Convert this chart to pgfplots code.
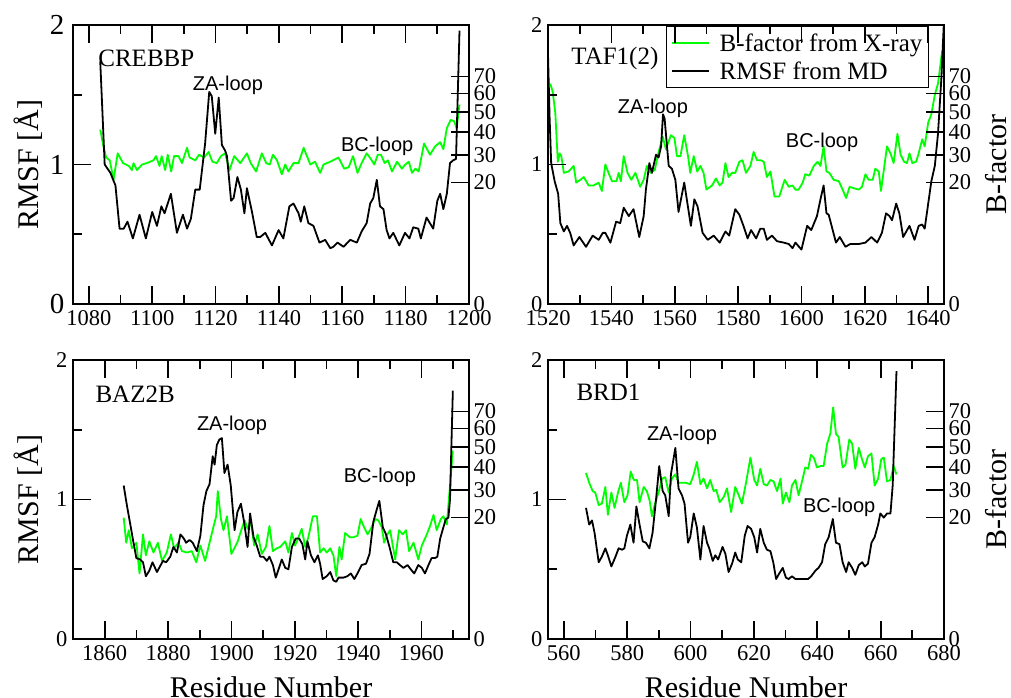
\documentclass[border=0pt]{standalone}
\usepackage{fontspec}
\setmainfont{Liberation Serif}
\newfontfamily\sansf{Liberation Sans}
\usepackage{pgfplots}
\pgfplotsset{compat=1.18}
\definecolor{bgreen}{RGB}{0,255,0}

\tikzset{
  ann/.style={font=\sansf\fontsize{20bp}{24bp}\selectfont, anchor=base},
  ttl/.style={font=\fontsize{25bp}{30bp}\selectfont, anchor=base west},
  bigl/.style={font=\fontsize{30bp}{36bp}\selectfont},
  tk/.style={draw=black, line width=1.7bp},
}
\pgfplotsset{
  mainax/.style={
    scale only axis, width=396bp, height=279bp, clip=false,
    ymin=0, ymax=2, ytick={0,1,2},
    major tick length=0pt, minor tick length=0pt,
    axis line style={line width=1.6bp},
    scaled x ticks=false, scaled y ticks=false,
    /pgf/number format/1000 sep={},
    /pgf/number format/assume math mode=true,
    tick label style={font=\fontsize{22.5bp}{26bp}\selectfont},
    xticklabel style={yshift=-3bp},
    yticklabel style={xshift=-2bp},
    every axis plot/.append style={line width=1.8bp, line join=round},
  },
  rightax/.style={
    scale only axis, width=396bp, height=279bp,
    ymin=0, ymax=2, xtick=\empty, ytick pos=right,
    axis line style={draw=none},
    major tick length=0pt,
    /pgf/number format/assume math mode=true,
    ytick={0,0.87173,1.06765,1.23281,1.37833,1.50988,1.63085},
    yticklabels={0,20,30,40,50,60,70},
    tick label style={font=\fontsize{22.5bp}{26bp}\selectfont},
    yticklabel style={xshift=1bp},
  },
}

\begin{document}
\begin{tikzpicture}
\useasboundingbox (0,0) rectangle (1011bp,698bp);

% ---------------- CREBBP (top left)
\begin{axis}[mainax, at={(73bp,394bp)}, anchor=south west,
  xmin=1075, xmax=1200, xtick={1080,1100,...,1200},
  yticklabel style={font=\fontsize{29bp}{33bp}\selectfont, xshift=-3bp},
  ylabel={RMSF [Å]}, ylabel style={bigl, at={(axis description cs:-0.0876,0.5)}, anchor=base}]
\addplot[bgreen] coordinates {(1083.6,1.25)(1084.7,1.12)(1085.5,1.05)(1086.6,1.03)(1087.8,0.89)(1089.1,1.08)(1090.8,1.01)(1092.6,0.99)(1093.6,0.96)(1094.1,1.01)(1095.2,0.96)(1096.8,1.00)(1098.3,1.01)(1100.4,1.03)(1101.2,1.06)(1102.3,0.99)(1103,1.06)(1104.1,0.96)(1104.9,1.07)(1106,0.95)(1106.9,1.06)(1108.3,1.06)(1109.4,1.01)(1111,1.12)(1111.8,1.05)(1113.6,1.03)(1114.8,1.07)(1116.4,1.05)(1117.8,1.09)(1119,1.02)(1120.4,1.01)(1121.7,1.06)(1123,1.08)(1124.4,0.96)(1125.9,1.06)(1127.8,1.01)(1129.9,1.08)(1131.1,1.01)(1132.8,0.95)(1134.6,1.08)(1136,1.01)(1137.1,1.00)(1138.1,1.07)(1139.4,1.03)(1140.9,0.93)(1142,1.00)(1143,0.95)(1144.6,1.01)(1146.2,1.01)(1147.8,1.12)(1149.9,1.00)(1151.4,1.02)(1153,0.94)(1154.1,1.00)(1156.2,1.02)(1158.8,1.05)(1160.6,0.97)(1162,0.98)(1163.4,1.06)(1164.8,0.94)(1166.1,1.01)(1167.7,1.08)(1169,1.04)(1170.1,1.00)(1171.2,1.07)(1172.2,1.07)(1173.4,1.01)(1174.4,1.03)(1175.7,0.95)(1177.3,1.02)(1178.8,0.97)(1179.9,1.00)(1181,1.02)(1182,0.94)(1183.1,0.97)(1184.1,0.95)(1185.8,1.15)(1187.7,1.07)(1189.3,1.13)(1190.9,1.16)(1191.9,1.11)(1193,1.26)(1194.2,1.32)(1195.3,1.31)(1196.1,1.26)(1197,1.43)};
\addplot[black] coordinates {(1083.6,1.74)(1085,1.0)(1086.8,0.94)(1088.4,0.85)(1089.7,0.54)(1091,0.54)(1092.2,0.59)(1093.9,0.47)(1096,0.64)(1098,0.47)(1100,0.66)(1101.5,0.56)(1102.9,0.70)(1103.9,0.65)(1105.9,0.79)(1107.8,0.51)(1109.7,0.64)(1111,0.54)(1112.2,0.61)(1113.6,0.82)(1115,0.82)(1116.7,1.15)(1118,1.52)(1118.8,1.49)(1119.9,1.22)(1121,1.48)(1122,1.14)(1123,1.10)(1123.6,1.06)(1124.9,0.74)(1125.7,0.76)(1126.9,0.91)(1128,0.82)(1129.1,0.65)(1129.9,0.83)(1131.5,0.66)(1133,0.48)(1134.1,0.48)(1135.7,0.51)(1137.8,0.42)(1139.9,0.53)(1141.4,0.47)(1143.3,0.70)(1144.6,0.72)(1146.2,0.65)(1146.9,0.59)(1148,0.70)(1149.3,0.58)(1150.9,0.56)(1152.8,0.44)(1154.6,0.46)(1156.2,0.40)(1157.2,0.41)(1158.5,0.44)(1160.4,0.41)(1162.5,0.46)(1164.6,0.44)(1166.1,0.52)(1167.7,0.58)(1168.8,0.72)(1169.8,0.76)(1170.9,0.89)(1171.9,0.70)(1173,0.68)(1174,0.53)(1174.9,0.47)(1176.1,0.51)(1178,0.42)(1179.8,0.51)(1181.2,0.47)(1182.4,0.55)(1184,0.54)(1184.8,0.47)(1186.6,0.62)(1188.7,0.54)(1190,0.74)(1190.9,0.79)(1191.9,0.68)(1193,0.79)(1194,1.01)(1195,1.03)(1195.9,1.04)(1197,1.96)};
\pgfplotsinvokeforeach{0.87173,1.06765,1.23281,1.37833,1.50988,1.63085}{\draw[tk] (axis cs:1200,#1) -- (axis cs:1194.318,#1);}
\node[ttl] at (axis cs:1081.9,1.701) {CREBBP};
\node[ann] at (axis cs:1123.9,1.534) {ZA-loop};
\node[ann] at (axis cs:1171,1.090) {BC-loop};
\end{axis}
\begin{axis}[rightax, at={(73bp,394bp)}, anchor=south west, xmin=1075, xmax=1200]
\end{axis}

% ---------------- TAF1(2) (top right)
\begin{axis}[mainax, at={(548bp,394bp)}, anchor=south west,
  xmin=1520, xmax=1645, xtick={1520,1540,...,1640},
  legend style={at={(rel axis cs:0.962,0.996)}, anchor=north east, draw=black, line width=1.2bp, fill=white,
    font=\fontsize{25bp}{29bp}\selectfont, inner xsep=4bp, inner ysep=5bp, row sep=5bp, column sep=8bp},
  legend cell align=left,
  legend image code/.code={\draw[#1, line width=1.8bp] (0bp,0bp) -- (37bp,0bp);}]
\addplot[bgreen] coordinates {(1520.7,1.58)(1521.5,1.52)(1522.3,1.37)(1523.1,1.02)(1523.7,1.08)(1524.2,1.06)(1525,0.94)(1526.5,0.95)(1528.1,0.99)(1528.9,0.87)(1530.2,0.89)(1531.3,0.91)(1532.8,0.85)(1534.4,0.85)(1536,0.87)(1537,0.81)(1538.1,1.00)(1539.1,0.94)(1540.2,0.88)(1541.6,0.88)(1542.3,0.94)(1543,0.88)(1543.9,1.06)(1545.1,0.94)(1546.3,0.89)(1547.6,0.94)(1549.1,0.84)(1550.2,0.89)(1551.2,0.99)(1552.3,0.94)(1553.7,0.96)(1554.7,1.07)(1556.2,1.20)(1557.2,1.11)(1558.8,1.21)(1559.9,1.19)(1560.7,1.06)(1561.8,1.06)(1563,1.21)(1564.2,1.06)(1564.9,0.94)(1566,1.06)(1567.1,0.95)(1568.1,0.99)(1569.1,0.94)(1570,0.82)(1571.8,0.85)(1573,0.90)(1574.2,0.85)(1575.1,0.87)(1576,1.01)(1577,0.91)(1578.1,0.94)(1579.1,0.94)(1580.4,1.02)(1581.4,1.03)(1582.5,0.94)(1583.9,0.99)(1584.9,1.09)(1586,1.03)(1587.2,1.03)(1588.1,1.02)(1589.1,0.91)(1590.2,0.95)(1591.5,0.77)(1593,0.77)(1594.7,0.89)(1596,0.84)(1597.2,0.85)(1598.1,0.82)(1599.1,0.82)(1600.4,0.87)(1601.2,0.93)(1602.5,0.92)(1603.9,0.99)(1605.1,1.02)(1606,0.99)(1607,1.13)(1607.9,0.95)(1608.8,0.94)(1610.2,0.89)(1611.8,0.88)(1613,0.82)(1614.1,0.76)(1615.2,0.84)(1616.5,0.83)(1618.1,0.82)(1619.1,0.84)(1620.2,0.93)(1621.2,0.89)(1622.5,0.89)(1623.3,0.97)(1624.4,0.95)(1625.1,0.81)(1626,0.96)(1627,1.13)(1628.1,1.08)(1629.1,1.01)(1630.3,1.22)(1631.3,1.07)(1632.4,1.02)(1633.3,1.01)(1634.1,1.08)(1635,1.01)(1636.2,1.02)(1637,1.08)(1638.1,1.18)(1638.9,1.13)(1640,1.30)(1641,1.36)(1642.1,1.50)(1643.1,1.58)(1644.4,1.81)};
\addlegendentry{B-factor from X-ray}
\addplot[black] coordinates {(1520,1.79)(1520.5,1.34)(1521,1.01)(1522.1,0.88)(1523.2,0.79)(1523.9,0.58)(1525,0.52)(1526,0.56)(1527,0.51)(1528.1,0.42)(1529.9,0.48)(1532,0.41)(1534.1,0.49)(1536,0.46)(1537.3,0.51)(1538.1,0.51)(1539.7,0.44)(1541.5,0.59)(1542.8,0.58)(1543.9,0.69)(1545.5,0.63)(1547,0.68)(1548.8,0.48)(1550.2,0.63)(1550.9,0.82)(1552,1.01)(1552.8,0.94)(1554.1,1.07)(1554.9,1.05)(1555.7,1.13)(1556.3,1.36)(1556.8,1.33)(1558.1,0.99)(1559.1,0.97)(1560.2,0.89)(1561.2,0.66)(1563,0.87)(1565.1,0.56)(1566.2,0.75)(1567.2,0.70)(1568.8,0.51)(1570.4,0.46)(1572.3,0.49)(1574.2,0.44)(1576,0.52)(1577.2,0.49)(1579.1,0.68)(1580.4,0.64)(1581.7,0.56)(1583,0.47)(1584.1,0.53)(1585.7,0.47)(1587,0.54)(1588.1,0.54)(1589.1,0.46)(1590.7,0.49)(1592.3,0.45)(1594.4,0.44)(1596,0.43)(1597.2,0.40)(1598.1,0.44)(1600,0.39)(1601.8,0.56)(1603.1,0.53)(1604.9,0.63)(1606,0.75)(1607,0.85)(1607.9,0.65)(1608.6,0.64)(1610.9,0.44)(1612.1,0.48)(1613.9,0.41)(1615.4,0.43)(1618.1,0.43)(1620.2,0.44)(1622.1,0.48)(1623.9,0.44)(1625.4,0.51)(1626.7,0.65)(1627.8,0.63)(1628.6,0.60)(1629.9,0.72)(1630.9,0.65)(1632.1,0.48)(1634.1,0.56)(1635.7,0.46)(1637,0.56)(1638.1,0.57)(1638.9,0.54)(1640.2,0.75)(1641,0.88)(1642.1,0.99)(1643.1,1.22)(1644.2,1.63)(1644.9,1.99)};
\addlegendentry{RMSF from MD}
\pgfplotsinvokeforeach{0.87173,1.06765,1.23281,1.37833,1.50988,1.63085}{\draw[tk] (axis cs:1645,#1) -- (axis cs:1639.318,#1);}
\node[ttl] at (axis cs:1526.3,1.720) {TAF1(2)};
\node[ann] at (axis cs:1553.1,1.369) {ZA-loop};
\node[ann] at (axis cs:1606.5,1.125) {BC-loop};
\end{axis}
\begin{axis}[rightax, at={(548bp,394bp)}, anchor=south west, xmin=1520, xmax=1645,
  ylabel={B-factor}, ylabel style={bigl, at={(axis description cs:1.158,0.5)}, anchor=base}]
\end{axis}

% ---------------- BAZ2B (bottom left)
\begin{axis}[mainax, at={(73bp,59bp)}, anchor=south west,
  xmin=1850, xmax=1975, xtick={1860,1880,...,1960},
  ylabel={RMSF [Å]}, ylabel style={bigl, at={(axis description cs:-0.0876,0.5)}, anchor=base},
  xlabel={Residue Number}, xlabel style={bigl, at={(axis description cs:0.5,-0.208)}, anchor=base}]
\addplot[bgreen] coordinates {(1866,0.87)(1866.8,0.69)(1867.6,0.78)(1868.6,0.65)(1870,0.69)(1871,0.47)(1872.1,0.75)(1873,0.60)(1874.1,0.70)(1875.4,0.62)(1876.8,0.69)(1878.1,0.56)(1879.6,0.62)(1880.9,0.75)(1881.9,0.65)(1883.3,0.69)(1884.4,0.63)(1886,0.62)(1887.5,0.63)(1888.9,0.55)(1890.2,0.67)(1891.7,0.56)(1893.1,0.69)(1894.4,0.81)(1895.2,0.88)(1895.7,1.06)(1896.7,0.86)(1897.5,0.78)(1898.6,0.88)(1900,0.61)(1900.9,0.65)(1902,0.70)(1903.1,0.78)(1904.2,0.85)(1905.1,0.79)(1906.1,0.84)(1907.2,0.67)(1908.3,0.75)(1909.6,0.61)(1910.9,0.66)(1912,0.81)(1913.1,0.63)(1914.3,0.65)(1915.4,0.66)(1917,0.70)(1918,0.62)(1919.1,0.76)(1920.1,0.67)(1921.2,0.73)(1922.2,0.79)(1923.3,0.66)(1924.3,0.73)(1925.7,0.88)(1927,0.88)(1928,0.62)(1929.1,0.65)(1930.1,0.62)(1931.2,0.65)(1932.2,0.60)(1933.1,0.45)(1934.1,0.66)(1934.8,0.57)(1935.9,0.76)(1937.3,0.73)(1938.6,0.73)(1939.8,0.74)(1940.8,0.86)(1941.9,0.80)(1943,0.75)(1944,0.79)(1945.4,0.86)(1946.4,0.85)(1947.5,0.80)(1948.2,0.69)(1949,0.74)(1950.1,0.78)(1951.7,0.57)(1952.9,0.78)(1954.1,0.75)(1955.1,0.78)(1956.1,0.63)(1957.5,0.69)(1959,0.57)(1960.1,0.67)(1961.5,0.74)(1962.7,0.81)(1963.8,0.89)(1964.8,0.78)(1966.1,0.86)(1966.9,0.88)(1968,0.82)(1969,1.10)(1969.9,1.35)};
\addplot[black] coordinates {(1866,1.10)(1867,0.96)(1868.1,0.82)(1869.1,0.69)(1870,0.58)(1871.2,0.57)(1872.1,0.55)(1873,0.45)(1874.1,0.49)(1875.1,0.55)(1876.5,0.48)(1878.4,0.56)(1879.4,0.55)(1880.7,0.59)(1881.7,0.66)(1882.8,0.62)(1883.9,0.75)(1885,0.72)(1885.7,0.69)(1886.8,0.71)(1887.8,0.69)(1889.1,0.63)(1890.2,0.74)(1891.2,0.96)(1892.1,1.06)(1893.1,1.11)(1894.1,1.31)(1894.7,1.25)(1895.4,1.39)(1896.2,1.43)(1897,1.44)(1897.8,1.19)(1898.8,1.25)(1899.8,1.10)(1901,0.78)(1901.9,0.91)(1903,0.97)(1904,0.84)(1905.1,0.66)(1905.9,0.90)(1907,0.73)(1908,0.67)(1909.1,0.59)(1910.1,0.59)(1911.2,0.56)(1912,0.59)(1913.1,0.53)(1914,0.44)(1914.9,0.50)(1915.9,0.57)(1917,0.51)(1918,0.50)(1919.1,0.66)(1920.3,0.72)(1921.4,0.72)(1922.4,0.68)(1923.3,0.57)(1924,0.70)(1925.1,0.60)(1926.2,0.55)(1927.3,0.60)(1928,0.54)(1928.8,0.43)(1930.1,0.45)(1931.2,0.48)(1932.2,0.42)(1933.1,0.41)(1933.8,0.44)(1935.4,0.44)(1936.6,0.45)(1937.7,0.47)(1938.8,0.43)(1939.8,0.47)(1941.1,0.53)(1942.5,0.54)(1943.6,0.61)(1944.8,0.84)(1945.9,0.93)(1946.7,0.99)(1947.8,0.80)(1948.8,0.75)(1949.9,0.66)(1951.1,0.55)(1952.2,0.55)(1953.2,0.53)(1954.3,0.51)(1955.6,0.53)(1956.6,0.50)(1957.7,0.47)(1959,0.53)(1960.1,0.51)(1961.1,0.47)(1962.2,0.53)(1963.2,0.58)(1964.3,0.58)(1965,0.59)(1965.9,0.72)(1966.9,0.80)(1967.7,0.86)(1968.5,0.87)(1969,1.00)(1969.9,1.78)};
\pgfplotsinvokeforeach{0.87173,1.06765,1.23281,1.37833,1.50988,1.63085}{\draw[tk] (axis cs:1975,#1) -- (axis cs:1969.318,#1);}
\node[ttl] at (axis cs:1856,1.697) {BAZ2B};
\node[ann] at (axis cs:1900.2,1.493) {ZA-loop};
\node[ann] at (axis cs:1946.9,1.125) {BC-loop};
\end{axis}
\begin{axis}[rightax, at={(73bp,59bp)}, anchor=south west, xmin=1850, xmax=1975]
\end{axis}

% ---------------- BRD1 (bottom right)
\begin{axis}[mainax, at={(548bp,59bp)}, anchor=south west,
  xmin=555, xmax=680, xtick={560,580,...,680},
  xlabel={Residue Number}, xlabel style={bigl, at={(axis description cs:0.5,-0.208)}, anchor=base}]
\addplot[bgreen] coordinates {(567,1.19)(568,1.12)(569.1,1.06)(569.9,1.05)(571,0.96)(572,0.97)(573.1,1.09)(573.9,0.89)(575,1.05)(576,0.94)(577.1,1.05)(578,1.12)(579.1,0.98)(580.1,1.03)(581.1,1.20)(582.1,1.14)(583.1,1.14)(583.9,0.98)(585.2,1.09)(586.2,1.06)(587.1,0.99)(587.8,0.88)(588.9,0.98)(589.9,1.05)(591,1.15)(592,1.16)(593.1,1.05)(594.1,1.15)(595.2,1.18)(596.2,1.12)(597.3,1.12)(598.4,1.12)(599.9,1.11)(601,1.18)(602,1.27)(603.1,1.11)(604.1,1.15)(605.2,1.08)(606.2,1.14)(607.3,1.06)(608.1,1.07)(609.2,0.98)(610.5,1.02)(611.5,1.08)(612.8,0.91)(614.1,1.09)(615.2,1.03)(616.2,0.97)(617.5,1.12)(618.9,1.30)(620.1,1.14)(621,1.10)(622,1.22)(623.1,1.11)(624.1,1.10)(625.2,1.14)(626.2,1.13)(627.3,1.06)(628.4,1.15)(629.1,0.97)(630.1,1.05)(631.2,0.98)(632,1.10)(633.1,1.14)(634.1,1.03)(635.5,1.16)(636.2,1.23)(637.1,1.22)(638,1.32)(638.9,1.30)(639.9,1.23)(641,1.24)(642,1.24)(643.1,1.40)(644.1,1.47)(645,1.66)(645.9,1.47)(646.7,1.45)(648,1.23)(648.9,1.25)(650.1,1.43)(651,1.40)(652,1.22)(653.1,1.37)(654.1,1.29)(655,1.23)(656,1.31)(657.1,1.33)(658.1,1.10)(659.2,1.15)(660.2,1.29)(661,1.30)(662,1.13)(663.1,1.14)(664.1,1.24)(665,1.18)};
\addplot[black] coordinates {(567,0.94)(568,0.82)(568.9,0.85)(569.7,0.76)(571,0.55)(572,0.59)(573.1,0.65)(573.9,0.60)(575,0.52)(576.3,0.59)(577.3,0.65)(578.4,0.64)(579.1,0.65)(579.9,0.74)(581,0.82)(582,0.69)(582.9,0.95)(583.9,0.82)(584.9,0.70)(585.9,0.69)(587,0.65)(588,0.76)(589.1,1.00)(590.1,1.24)(591.2,1.06)(592,1.03)(593.1,0.88)(593.8,1.18)(595.2,1.37)(596.2,1.08)(597.3,1.03)(598.1,0.97)(599.2,0.69)(599.9,0.73)(601,0.90)(602,0.80)(603.1,0.57)(604.1,0.81)(605.2,0.69)(605.9,0.65)(607,0.56)(607.8,0.60)(608.7,0.57)(610.1,0.66)(611,0.61)(612,0.48)(613.1,0.54)(614.1,0.62)(614.9,0.57)(616,0.55)(617.1,0.74)(618,0.81)(619.1,0.79)(620.1,0.73)(621,0.62)(622,0.79)(623.1,0.69)(624.1,0.64)(625.2,0.63)(626.1,0.55)(627,0.43)(628,0.47)(629.1,0.51)(630.1,0.44)(631,0.43)(632,0.45)(633.1,0.43)(634.1,0.43)(635.7,0.43)(637.1,0.43)(638.1,0.45)(639.4,0.49)(640.4,0.51)(641.5,0.55)(642.5,0.68)(643.6,0.73)(644.1,0.78)(644.9,0.86)(645.9,0.69)(647,0.68)(648,0.55)(649.1,0.48)(649.9,0.55)(651,0.51)(652,0.46)(653.1,0.53)(654.2,0.55)(655,0.52)(656,0.54)(657.1,0.69)(658.1,0.73)(659.2,0.82)(659.9,0.90)(661,0.87)(662,0.90)(663.1,0.90)(663.8,1.10)(665,1.92)};
\pgfplotsinvokeforeach{0.87173,1.06765,1.23281,1.37833,1.50988,1.63085}{\draw[tk] (axis cs:680,#1) -- (axis cs:674.318,#1);}
\node[ttl] at (axis cs:562.9,1.708) {BRD1};
\node[ann] at (axis cs:597.3,1.421) {ZA-loop};
\node[ann] at (axis cs:646.9,0.908) {BC-loop};
\end{axis}
\begin{axis}[rightax, at={(548bp,59bp)}, anchor=south west, xmin=555, xmax=680,
  ylabel={B-factor}, ylabel style={bigl, at={(axis description cs:1.158,0.5)}, anchor=base}]
\end{axis}

% ---- inward tick marks, literal picture coordinates (bp)
% top row: bottom edge 394, top edge 673; bottom row: bottom edge 59, top edge 338
\foreach \x in {88.84,152.2,215.56,278.92,342.28,405.64,548,611.36,674.72,738.08,801.44,864.8,928.16}
  {\draw[tk] (\x bp,394bp) -- (\x bp,412bp); \draw[tk] (\x bp,673bp) -- (\x bp,655bp);}
\foreach \x in {120.52,183.88,247.24,310.6,373.96,437.32,579.68,643.04,706.4,769.76,833.12,896.48}
  {\draw[tk] (\x bp,394bp) -- (\x bp,403bp); \draw[tk] (\x bp,673bp) -- (\x bp,664bp);}
\foreach \x in {104.68,168.04,231.4,294.76,358.12,421.48,563.84,627.2,690.56,753.92,817.28,880.64}
  {\draw[tk] (\x bp,59bp) -- (\x bp,77bp); \draw[tk] (\x bp,338bp) -- (\x bp,320bp);}
\foreach \x in {136.36,199.72,263.08,326.44,389.8,453.16,595.52,658.88,722.24,785.6,848.96,912.32}
  {\draw[tk] (\x bp,59bp) -- (\x bp,68bp); \draw[tk] (\x bp,338bp) -- (\x bp,329bp);}
\foreach \x in {73,548}
  {\draw[tk] (\x bp,533.5bp) -- ++(18bp,0bp); \draw[tk] (\x bp,463.75bp) -- ++(9bp,0bp); \draw[tk] (\x bp,603.25bp) -- ++(9bp,0bp);
   \draw[tk] (\x bp,198.5bp) -- ++(18bp,0bp); \draw[tk] (\x bp,128.75bp) -- ++(9bp,0bp); \draw[tk] (\x bp,268.25bp) -- ++(9bp,0bp);}
\end{tikzpicture}
\end{document}
